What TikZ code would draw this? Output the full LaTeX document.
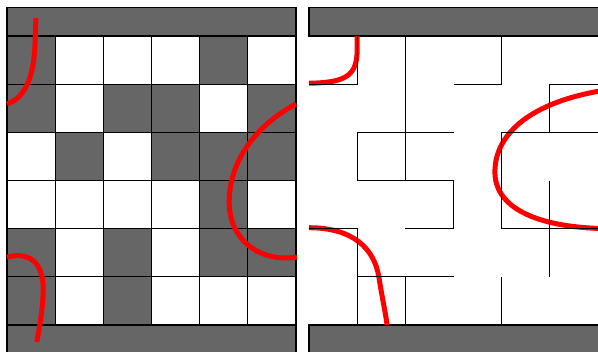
\documentclass[tikz,border=0pt]{standalone}
\usepackage{tikz}
\definecolor{cellgray}{RGB}{102,102,102}
\tikzset{
  gcell/.style={fill=cellgray},
  gline/.style={line width=1.1pt},
  bar/.style={draw,fill=cellgray,line width=1.1pt},
  wall/.style={line width=1.1pt},
  trail/.style={red,line width=5pt}
}

\begin{document}
\begin{tikzpicture}[x=48.17pt,y=-48.17pt]
\useasboundingbox (-0.1453,-0.7474) rectangle (12.269,6.560);
\clip (-0.1453,-0.7474) rectangle (12.269,6.560);
\foreach \c/\r in {0/0,4/0,0/1,2/1,3/1,5/1,1/2,3/2,4/2,5/2,4/3,0/4,2/4,4/4,5/4,0/5,2/5}
  \fill[gcell] (\c,\r) rectangle ++(1,1);
\foreach \i in {1,...,5} {
  \draw[gline] (\i,0) -- (\i,6);
  \draw[gline] (0,\i) -- (6,\i);
}
\draw[gline] (0,0) rectangle (6,6);
\draw[bar] (0,-0.6) rectangle (6,0);
\draw[bar] (0,6) rectangle (6,6.8);
\draw[trail] (0.60,-0.37) -- (0.58,0.2) .. controls (0.55,0.9) and (0.35,1.3) .. (0,1.41);
\draw[trail] (6.0,1.41) .. controls (5.0,1.95) and (4.55,2.8) .. (4.62,3.6)
  .. controls (4.7,4.3) and (5.3,4.7) .. (6.02,4.59);
\draw[trail] (0,4.59) .. controls (0.55,4.45) and (0.78,4.8) .. (0.75,5.35)
  .. controls (0.73,5.8) and (0.66,6.1) .. (0.62,6.35);
\begin{scope}[xshift=302pt]
\draw[bar] (0,-0.6) rectangle (6.5,0);
\draw[bar] (0,6) rectangle (6.5,6.8);
\draw[trail] (1.0,0) -- (1.0,0.3) .. controls (0.99,0.8) and (0.8,0.97) .. (0,0.98);
\draw[trail] (6.3,1.1) .. controls (4.5,1.35) and (3.84,2.1) .. (3.86,2.85)
  .. controls (3.88,3.6) and (4.8,4.0) .. (6.3,4.0);
\draw[trail] (0,3.98) .. controls (0.9,3.98) and (1.35,4.4) .. (1.45,5.0)
  .. controls (1.52,5.45) and (1.6,5.8) .. (1.62,6.0);
\draw[wall] (0,1) -- (1,1) -- (1,0);
\draw[wall] (2,0) -- (2,3);
\draw[wall] (3,1) -- (4,1) -- (4,0);
\draw[wall] (6.3,1) -- (5,1) -- (5,2);
\draw[wall] (3,2) -- (1,2) -- (1,3) -- (3,3) -- (3,4) -- (2,4);
\draw[wall] (6.3,2) -- (4,2) -- (4,4) -- (6.3,4);
\draw[wall] (0,4) -- (1,4) -- (1,6);
\draw[wall] (1,5) -- (3,5);
\draw[wall] (2,5) -- (2,6);
\draw[wall] (4,5) -- (4,6);
\draw[wall] (5,3) -- (5,5);
\end{scope}
\end{tikzpicture}
\end{document}
